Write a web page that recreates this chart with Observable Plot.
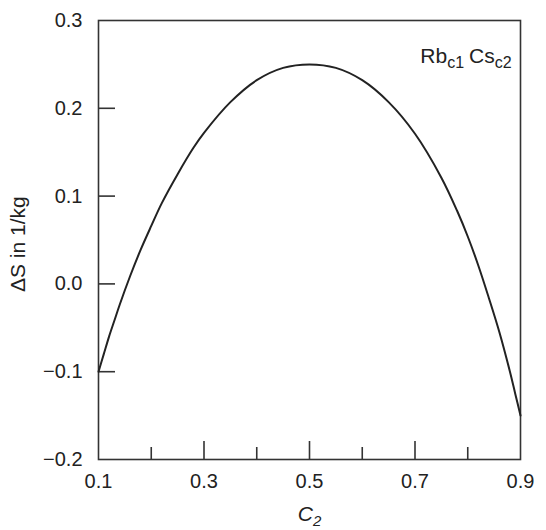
<!DOCTYPE html>
<html><head><meta charset="utf-8">
<script src="https://cdn.jsdelivr.net/npm/d3@7"></script>
<script src="https://cdn.jsdelivr.net/npm/@observablehq/plot@0.6"></script>
<style>body{margin:0;background:#fff} svg{display:block}</style>
</head><body><div id="chart"></div>
<script>
// data
const c2 = [0.10, 0.11, 0.12, 0.13, 0.14, 0.16, 0.18, 0.20, 0.22, 0.25, 0.28, 0.30, 0.35, 0.40, 0.45, 0.50, 0.55, 0.60, 0.65, 0.70, 0.75, 0.78, 0.80, 0.82, 0.84, 0.86, 0.88, 0.89, 0.90];
const deltaS = [-0.100, -0.080, -0.060, -0.042, -0.024, 0.009, 0.039, 0.066, 0.092, 0.125, 0.155, 0.172, 0.207, 0.232, 0.246, 0.250, 0.246, 0.232, 0.207, 0.171, 0.121, 0.083, 0.054, 0.021, -0.016, -0.055, -0.100, -0.125, -0.150];
const xLabelTicks = [0.1, 0.3, 0.5, 0.7, 0.9];
const xMajorTicks = [0.3, 0.5, 0.7];
const xMinorTicks = [0.2, 0.4, 0.6, 0.8];
const yTicks = [-0.1, 0.0, 0.1, 0.2];
const yLabelTicks = [-0.2, -0.1, 0.0, 0.1, 0.2, 0.3];
const seriesName = ["Rb", "c1", "Cs", "c2"];
const yTitle = "ΔS in 1/kg";
const xTitle = ["C", "2"];

const data = c2.map((x, i) => ({x, y: deltaS[i]}));
const ink = "#222";
const FONT = "'Liberation Sans', Arial, Helvetica, sans-serif";
const blank = () => "";

const plot = Plot.plot({
  width: 546, height: 530,
  marginLeft: 98, marginRight: 26, marginTop: 20, marginBottom: 71,
  style: {fontFamily: FONT, fontSize: "20px", color: ink, background: "#fff"},
  x: {domain: [0.1, 0.9], label: null},
  y: {domain: [-0.2, 0.3], label: null},
  marks: [
    Plot.frame({stroke: "#333", strokeWidth: 1.6}),
    // inward tick marks
    Plot.axisX({ticks: xMajorTicks, tickSize: 18, dy: -18, tickFormat: blank, stroke: "#333", strokeWidth: 1.6, label: null}),
    Plot.axisX({ticks: xMinorTicks, tickSize: 12, dy: -12, tickFormat: blank, stroke: "#333", strokeWidth: 1.6, label: null}),
    Plot.axisY({ticks: yTicks, tickSize: 17, dx: 17, tickFormat: blank, stroke: "#333", strokeWidth: 1.6, label: null}),
    // tick labels
    Plot.axisX({ticks: xLabelTicks, tickSize: 0, tickPadding: 14, tickFormat: d3.format(".1f"), fontSize: 20, fill: ink, label: null}),
    Plot.axisY({ticks: yLabelTicks, tickSize: 0, tickPadding: 16, tickFormat: d3.format(".1f"), fontSize: 20, fill: ink, label: null}),
    // curve
    Plot.line(data, {x: "x", y: "y", curve: "catmull-rom", stroke: ink, strokeWidth: 2}),
    // annotation
    Plot.text(["SERIESLABEL"], {x: 0.71, y: 0.259, text: d => d, textAnchor: "start", fontSize: 21, fill: ink}),
    // axis titles
    Plot.text([yTitle], {frameAnchor: "left", rotate: -90, dx: -80, dy: 52, text: d => d, fontSize: 21, fill: ink}),
    Plot.text(["XTITLE"], {frameAnchor: "bottom", dy: 61, text: d => d, fontSize: 21, fontStyle: "italic", fill: ink})
  ]
});

function findText(s) {
  return d3.select(plot).selectAll("text").filter(function() { return this.textContent === s; });
}
// subscripts
const sl = findText("SERIESLABEL");
sl.text(null);
sl.append("tspan").text(seriesName[0]);
sl.append("tspan").attr("dy", 5).attr("font-size", 16).text(seriesName[1]);
sl.append("tspan").attr("dy", -5).attr("dx", 5).text(seriesName[2]);
sl.append("tspan").attr("dy", 5).attr("font-size", 16).text(seriesName[3]);

const xt = findText("XTITLE");
xt.text(null);
xt.append("tspan").text(xTitle[0]);
xt.append("tspan").attr("dy", 5).attr("font-size", 15).text(xTitle[1]);

document.getElementById("chart").appendChild(plot);
</script>
</body></html>
